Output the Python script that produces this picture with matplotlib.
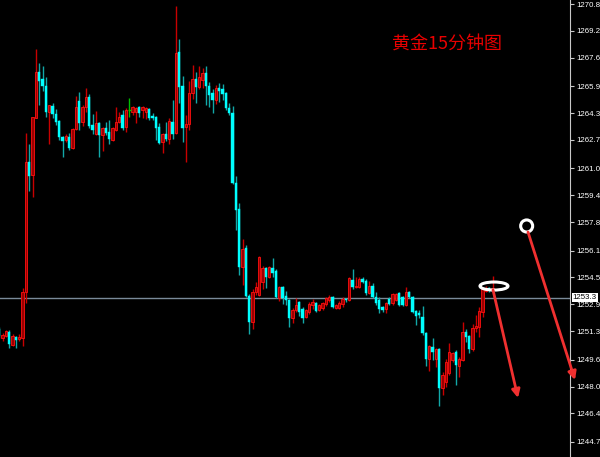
import matplotlib.pyplot as plt
import numpy as np
from matplotlib.patches import Ellipse, FancyArrowPatch

# 15-minute gold candles (price values)
opens = [1251.43, 1250.90, 1251.01, 1251.25, 1250.48, 1250.95, 1250.84, 1250.90, 1253.64, 1261.38,
         1260.61, 1264.01, 1266.75, 1266.33, 1265.91, 1264.37, 1264.72, 1264.25, 1263.83, 1262.88,
         1262.70, 1262.88, 1262.22, 1263.35, 1265.02, 1263.77, 1264.66, 1265.26, 1263.59, 1263.05,
         1263.71, 1262.99, 1263.41, 1263.17, 1262.70, 1263.29, 1263.77, 1264.19, 1263.47, 1264.48,
         1264.37, 1264.37, 1264.66, 1264.48, 1264.37, 1264.54, 1264.13, 1264.07, 1263.47, 1262.58,
         1263.05, 1262.76, 1263.77, 1263.11, 1267.94, 1265.91, 1263.47, 1263.65, 1265.50, 1266.33,
         1265.85, 1266.27, 1266.69, 1265.91, 1265.50, 1265.08, 1265.80, 1265.74, 1265.50, 1264.60,
         1264.31, 1260.13, 1258.58, 1255.13, 1256.26, 1253.40, 1251.85, 1253.64, 1253.46, 1254.23,
         1255.07, 1254.53, 1255.07, 1254.89, 1253.28, 1253.93, 1253.40, 1253.16, 1252.09, 1252.56,
         1253.04, 1252.62, 1252.15, 1252.44, 1252.86, 1252.98, 1252.56, 1252.68, 1252.92, 1253.16,
         1253.34, 1252.68, 1252.68, 1252.92, 1253.19, 1253.16, 1254.35, 1253.93, 1253.93, 1254.41,
         1254.29, 1253.58, 1253.99, 1253.34, 1253.16, 1252.74, 1252.62, 1253.22, 1252.98, 1253.16,
         1253.58, 1253.34, 1252.86, 1253.64, 1253.34, 1252.50, 1252.39, 1252.15, 1251.19, 1249.64,
         1250.36, 1249.64, 1250.24, 1247.92, 1248.27, 1248.81, 1249.58, 1250.06, 1249.23, 1249.58,
         1251.25, 1251.01, 1250.24, 1251.49, 1251.55, 1252.44, 1253.70, 1253.88, 1253.76]
highs = [1251.55, 1251.19, 1251.37, 1251.37, 1251.13, 1251.01, 1251.13, 1253.88, 1263.11, 1262.46,
         1264.07, 1268.12, 1267.29, 1267.11, 1266.45, 1264.78, 1264.90, 1264.54, 1263.89, 1262.93,
         1263.05, 1263.11, 1263.41, 1265.32, 1265.56, 1264.78, 1265.80, 1265.44, 1264.25, 1264.42,
         1263.77, 1263.47, 1263.77, 1263.89, 1263.47, 1264.66, 1264.37, 1264.48, 1264.60, 1265.20,
         1264.72, 1264.66, 1264.72, 1264.72, 1264.66, 1264.60, 1264.31, 1264.13, 1263.71, 1263.11,
         1263.77, 1264.01, 1265.08, 1270.68, 1268.72, 1266.51, 1264.19, 1266.21, 1267.17, 1266.75,
         1267.11, 1266.99, 1267.11, 1266.15, 1265.74, 1265.97, 1266.09, 1266.03, 1265.56, 1264.90,
         1264.72, 1260.55, 1258.94, 1256.80, 1256.44, 1253.52, 1253.82, 1254.23, 1255.78, 1255.19,
         1255.13, 1255.19, 1255.66, 1255.01, 1253.99, 1253.99, 1253.70, 1253.22, 1252.68, 1253.28,
         1253.10, 1252.74, 1252.62, 1253.04, 1253.22, 1253.04, 1252.92, 1253.04, 1253.34, 1253.46,
         1253.40, 1252.92, 1253.10, 1253.34, 1253.28, 1254.53, 1255.01, 1254.53, 1254.53, 1254.53,
         1254.41, 1254.29, 1254.17, 1253.64, 1253.34, 1252.80, 1253.04, 1253.34, 1253.58, 1253.58,
         1253.64, 1253.40, 1253.93, 1253.70, 1253.40, 1252.56, 1252.56, 1252.80, 1251.25, 1250.48,
         1250.90, 1250.30, 1250.30, 1248.87, 1249.64, 1250.60, 1250.06, 1250.18, 1249.76, 1251.85,
         1251.43, 1251.07, 1251.73, 1252.27, 1252.74, 1253.88, 1253.99, 1253.93, 1254.59]
lows = [1250.90, 1250.72, 1250.95, 1250.30, 1250.42, 1250.30, 1250.72, 1250.42, 1252.98, 1259.66,
        1259.30, 1264.01, 1264.78, 1265.62, 1264.07, 1262.46, 1264.01, 1263.59, 1262.70, 1261.68,
        1262.58, 1262.10, 1262.16, 1263.29, 1263.29, 1263.53, 1264.37, 1263.41, 1263.05, 1262.99,
        1261.68, 1262.04, 1262.99, 1262.46, 1262.64, 1263.23, 1263.71, 1263.29, 1263.17, 1264.07,
        1264.19, 1263.71, 1264.07, 1264.01, 1263.95, 1263.89, 1263.89, 1262.70, 1262.46, 1261.92,
        1262.64, 1262.46, 1262.76, 1263.05, 1264.90, 1262.58, 1261.38, 1263.29, 1265.14, 1264.90,
        1265.74, 1265.80, 1264.78, 1264.66, 1264.31, 1264.84, 1264.96, 1265.08, 1264.48, 1264.19,
        1260.07, 1257.33, 1254.65, 1254.05, 1253.34, 1251.13, 1251.43, 1253.46, 1253.40, 1253.82,
        1253.88, 1254.47, 1254.53, 1253.28, 1253.10, 1252.92, 1252.86, 1251.55, 1251.79, 1252.44,
        1252.21, 1251.79, 1252.09, 1252.33, 1252.62, 1252.44, 1252.50, 1252.56, 1252.80, 1253.04,
        1252.68, 1252.62, 1252.62, 1252.74, 1253.04, 1253.10, 1253.82, 1253.88, 1253.88, 1254.17,
        1253.46, 1253.52, 1253.28, 1252.86, 1252.39, 1252.44, 1252.39, 1252.86, 1252.86, 1253.10,
        1252.80, 1252.80, 1252.80, 1253.28, 1252.39, 1251.67, 1252.09, 1251.07, 1249.23, 1248.93,
        1249.58, 1249.17, 1246.84, 1247.50, 1247.97, 1248.69, 1249.46, 1248.09, 1248.57, 1249.52,
        1250.66, 1250.00, 1250.12, 1251.25, 1250.95, 1252.15, 1253.64, 1253.64, 1253.70]
closes = [1251.01, 1251.07, 1251.31, 1250.54, 1251.01, 1250.78, 1250.95, 1253.64, 1261.38, 1260.55,
          1264.07, 1266.75, 1266.21, 1265.91, 1264.37, 1264.78, 1264.25, 1263.77, 1262.88, 1262.64,
          1262.93, 1262.22, 1263.35, 1264.66, 1263.71, 1264.66, 1265.26, 1263.53, 1263.29, 1263.71,
          1262.99, 1263.41, 1263.11, 1262.76, 1263.41, 1263.77, 1264.07, 1263.41, 1264.48, 1264.48,
          1264.66, 1264.60, 1264.31, 1264.66, 1264.60, 1264.01, 1264.01, 1263.41, 1262.52, 1263.05,
          1262.76, 1263.83, 1263.05, 1267.88, 1265.85, 1263.41, 1263.65, 1265.50, 1266.33, 1265.85,
          1266.45, 1266.69, 1265.91, 1265.38, 1265.08, 1265.80, 1265.62, 1265.44, 1264.60, 1264.31,
          1260.13, 1258.52, 1255.13, 1256.20, 1253.40, 1251.85, 1253.64, 1253.93, 1255.72, 1255.07,
          1254.53, 1255.13, 1254.77, 1253.34, 1253.93, 1253.28, 1253.16, 1252.09, 1252.56, 1252.86,
          1252.44, 1252.09, 1252.56, 1252.92, 1253.04, 1252.50, 1252.86, 1252.98, 1253.28, 1253.34,
          1252.74, 1252.86, 1252.98, 1253.22, 1253.13, 1254.47, 1253.93, 1253.99, 1254.41, 1254.23,
          1253.58, 1253.99, 1253.34, 1252.98, 1252.62, 1252.56, 1252.98, 1252.92, 1253.52, 1253.52,
          1252.86, 1252.86, 1253.64, 1253.34, 1252.44, 1252.21, 1252.27, 1251.19, 1249.64, 1250.42,
          1250.06, 1250.24, 1247.92, 1248.69, 1249.46, 1250.06, 1250.00, 1249.29, 1249.64, 1251.25,
          1250.95, 1250.24, 1251.49, 1251.61, 1252.50, 1253.82, 1253.88, 1253.76, 1253.88]

y_ticks = [1270.8, 1269.2, 1267.6, 1265.9, 1264.3, 1262.7, 1261.0, 1259.4, 1257.8,
           1256.1, 1254.5, 1252.9, 1251.3, 1249.6, 1248.0, 1246.4, 1244.7]
last_price = 1253.3
title = '黄金15分钟图'

o = np.array(opens)
h = np.array(highs)
l = np.array(lows)
c = np.array(closes)
x = np.arange(len(o))

fig = plt.figure(figsize=(6, 4.57), dpi=100, facecolor='black')
ax = fig.add_axes([0, 0, 570 / 600, 1])
ax.set_facecolor('black')

up = c > o
down = c < o
doji = c == o

wick_cols = np.where(up, '#c80000', np.where(down, '#12a8a8', '#00c000'))
ax.vlines(x, l, h, colors=wick_cols, linewidth=1, zorder=2)

body_h = np.maximum(np.abs(c - o), 0.05)
bottoms = np.minimum(o, c)
ax.bar(x[up], body_h[up], bottom=bottoms[up], width=0.7,
       color='#9a0000', edgecolor='#ff1010', linewidth=0.6, zorder=3)
ax.bar(x[down], body_h[down], bottom=bottoms[down], width=0.7,
       color='#00ffff', edgecolor='#00ffff', linewidth=0.3, zorder=3)
ax.hlines(o[doji], x[doji] - 0.4, x[doji] + 0.4, colors='#00c000', linewidth=1, zorder=3)

# current price line
ax.axhline(last_price, color='#7a8a99', linewidth=1, zorder=1)

ax.set_xlim(0.21, 171.2)
ax.set_ylim(1243.80, 1271.04)

ax.xaxis.set_visible(False)
for side in ['top', 'left', 'bottom']:
    ax.spines[side].set_visible(False)
ax.spines['right'].set_color('#c8c8c8')
ax.yaxis.tick_right()
ax.set_yticks(y_ticks)
ax.set_yticklabels(['%.1f' % v for v in y_ticks], family='Liberation Sans')
ax.tick_params(axis='y', colors='#c8c8c8', labelcolor='white', labelsize=5.7,
               length=3, width=0.8, pad=1.5)

ax.annotate('%.1f' % last_price, xy=(1, last_price), xycoords=('axes fraction', 'data'),
            xytext=(2, 0), textcoords='offset points', va='center', ha='left',
            fontsize=5.7, family='Liberation Sans', color='black',
            bbox=dict(boxstyle='square,pad=0.15', fc='white', ec='none'),
            annotation_clip=False, zorder=5)

# title
fig.text(447 / 600, 1 - 45 / 457, title, color='#e80000', fontsize=13,
         family=['Noto Sans CJK SC', 'DejaVu Sans'], ha='center', va='center')

# hand-drawn marks
ax.add_patch(Ellipse((148.4, 1253.99), 8.4, 0.48, fill=False, edgecolor='white',
                     linewidth=2.2, zorder=6, clip_on=False))
ax.add_patch(Ellipse((158.2, 1257.57), 3.6, 0.72, fill=False, edgecolor='white',
                     linewidth=2.2, zorder=6, clip_on=False))

for (xa, ya), (xb, yb) in [((148.1, 1253.76), (155.6, 1247.32)),
                           ((158.6, 1257.21), (172.7, 1248.39))]:
    arr = FancyArrowPatch((xa, ya), (xb, yb), transform=ax.transData,
                          arrowstyle='-|>', mutation_scale=12, color='#f03030',
                          linewidth=2, shrinkA=0, shrinkB=0, zorder=7)
    fig.add_artist(arr)

fig.savefig('out.png', dpi=100, facecolor='black')
